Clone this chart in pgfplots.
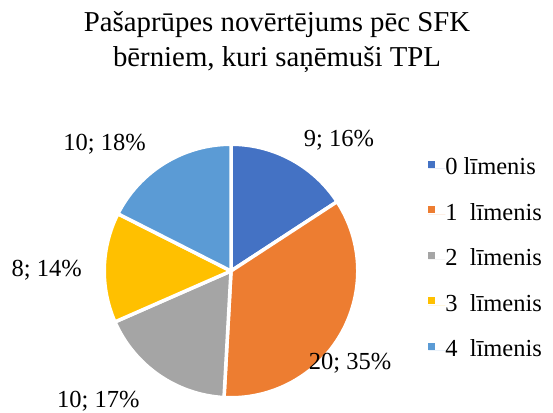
\documentclass[border=0pt]{standalone}
\usepackage{fontspec}
\setmainfont{Liberation Serif}
\usepackage{pgfplots}
\usepackage{pgfplotstable}
\pgfplotsset{compat=1.18}
\definecolor{pie0}{HTML}{4472C4}
\definecolor{pie1}{HTML}{ED7D31}
\definecolor{pie2}{HTML}{A5A5A5}
\definecolor{pie3}{HTML}{FFC000}
\definecolor{pie4}{HTML}{5B9BD5}
\newcommand\lbl{\fontsize{24.5bp}{29bp}\selectfont}
\newcommand\ttl{\fontsize{28.8bp}{35bp}\selectfont}
\pgfplotstableread{
idx value
0 9
1 20
2 10
3 8
4 10
}\piedata
\pgfplotstableread{
x y v p
339 266.4 9 16
350 43.7 20 35
98.3 6 10 17
46.7 136.2 8 14
104.5 262.7 10 18
}\labdata
\newcommand\slice[3]{\fill[#1, draw=white, line width=3.5bp, line join=round] (axis cs:231,142) -- ++(#2:126.75bp) arc[start angle=#2, end angle=#3, radius=126.75bp] -- cycle;}
\begin{document}
\pgfplotstablegetelem{0}{value}\of\piedata\edef\va{\pgfplotsretval}%
\pgfplotstablegetelem{1}{value}\of\piedata\edef\vb{\pgfplotsretval}%
\pgfplotstablegetelem{2}{value}\of\piedata\edef\vc{\pgfplotsretval}%
\pgfplotstablegetelem{3}{value}\of\piedata\edef\vd{\pgfplotsretval}%
\pgfplotstablegetelem{4}{value}\of\piedata\edef\ve{\pgfplotsretval}%
\pgfmathsetmacro\tot{\va+\vb+\vc+\vd+\ve}%
\pgfmathsetmacro\aA{90}%
\pgfmathsetmacro\aB{\aA-360*\va/\tot}%
\pgfmathsetmacro\aC{\aB-360*\vb/\tot}%
\pgfmathsetmacro\aD{\aC-360*\vc/\tot}%
\pgfmathsetmacro\aE{\aD-360*\vd/\tot}%
\pgfmathsetmacro\aF{\aE-360*\ve/\tot}%
\begin{tikzpicture}
\begin{axis}[hide axis, scale only axis, width=553bp, height=413bp,
  xmin=0, xmax=553, ymin=0, ymax=413, clip=false,
  /pgf/number format/assume math mode=true,
  title={Pašaprūpes novērtējums pēc SFK\\bērniem, kuri saņēmuši TPL},
  title style={at={(axis cs:277,341)}, anchor=base, align=center, font=\ttl, inner sep=0pt},
  legend style={draw=none, fill=none, inner sep=0pt, outer sep=0pt,
    at={(axis cs:428.3,255)}, anchor=north west, row sep=23.4bp,
    font=\lbl, nodes={inner sep=0pt, text height=17bp, text depth=5bp},
    /tikz/every even column/.append style={column sep=0pt}},
  legend cell align=left,
  legend image code/.code={\fill[#1] (0bp,1bp) rectangle (7bp,8bp); \path (0bp,0bp) -- (17bp,0bp);},
]
\path (rel axis cs:0,0) rectangle (rel axis cs:1,1);
\slice{pie0}{\aA}{\aB}
\slice{pie1}{\aB}{\aC}
\slice{pie2}{\aC}{\aD}
\slice{pie3}{\aD}{\aE}
\slice{pie4}{\aE}{\aF}
\addplot[draw=none, mark=none, forget plot, point meta=explicit symbolic,
  visualization depends on={\thisrow{p}\as\pct},
  nodes near coords={\pgfplotspointmeta;\ \pgfmathprintnumber{\pct}\%},
  nodes near coords style={anchor=base, font=\lbl, inner sep=0pt}]
  table[x=x, y=y, meta=v] {\labdata};
\addlegendimage{fill=pie0, draw=none}
\addlegendentry{0 līmenis}
\addlegendimage{fill=pie1, draw=none}
\addlegendentry{1\ \ līmenis}
\addlegendimage{fill=pie2, draw=none}
\addlegendentry{2\ \ līmenis}
\addlegendimage{fill=pie3, draw=none}
\addlegendentry{3\ \ līmenis}
\addlegendimage{fill=pie4, draw=none}
\addlegendentry{4\ \ līmenis}
\end{axis}
\end{tikzpicture}
\end{document}
